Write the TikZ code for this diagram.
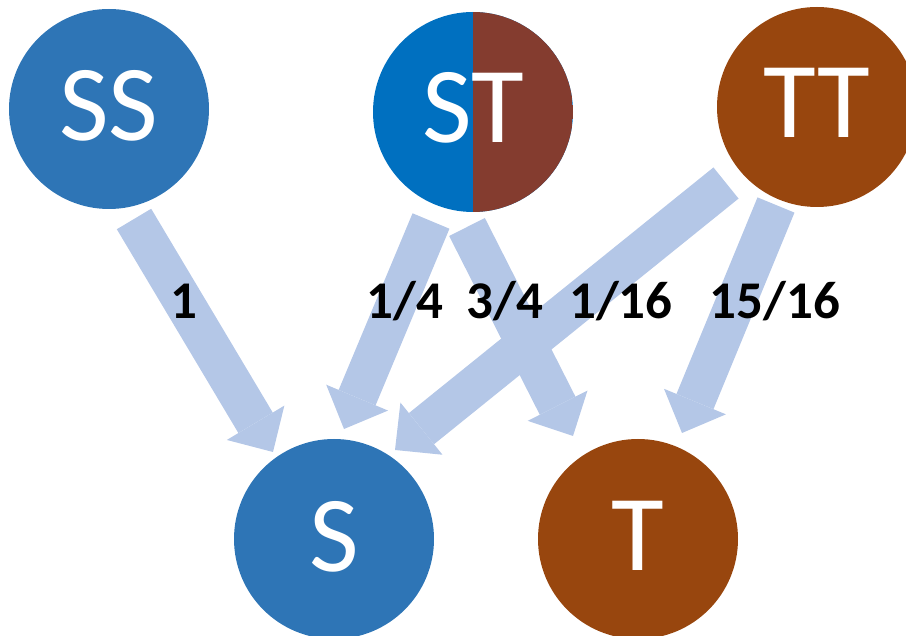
\documentclass[tikz,border=0pt]{standalone}
\usepackage{fontspec}
\setmainfont{Carlito}
\usetikzlibrary{arrows.meta,calc}
\definecolor{sblue}{HTML}{2E75B6}
\definecolor{stblue}{HTML}{0070C0}
\definecolor{stbrown}{HTML}{843C2F}
\definecolor{tbrown}{HTML}{98460E}
\definecolor{arrowblue}{HTML}{B4C7E7}
\tikzset{
  circ/.style={circle, minimum size=200pt, inner sep=0pt, draw=none},
  bigtxt/.style={anchor=base, text=white, inner sep=0pt, font=\fontsize{108}{120}\selectfont},
  lbl/.style={anchor=base, text=black, inner sep=0pt, font=\fontsize{53}{60}\selectfont\bfseries},
  fatarrow/.style={draw=arrowblue, line width=40pt, line cap=butt,
    -{Triangle[width=67pt,length=34pt,line width=0pt,fill=arrowblue]}}
}
\begin{document}
\begin{tikzpicture}[x=1pt,y=-1pt]
\useasboundingbox (0,0) rectangle (906,636);
% circles
\node[circ, fill=sblue] (SS) at (109,109) {};
\node[circ, fill=stblue, path picture={\fill[stbrown] (path picture bounding box.north) rectangle (path picture bounding box.south east);}] (ST) at (473,112) {};
\node[circ, fill=tbrown] (TT) at (817,107) {};
\node[circ, fill=sblue] (S) at (334,539) {};
\node[circ, fill=tbrown] (T) at (638,539) {};
% circle texts
\node[bigtxt] (tSS) at ([yshift=-32pt]SS.center) {SS};
\node[bigtxt] (tST) at ([yshift=-31pt]ST.center) {ST};
\node[bigtxt] (tTT) at ([yshift=-31pt]TT.center) {TT};
\node[bigtxt] (tS) at ([yshift=-32pt]S.center) {S};
\node[bigtxt] (tT) at ([yshift=-31pt]T.center) {T};
% arrow end points
\coordinate (a1s) at (134,219); \coordinate (a1e) at (273,452);
\coordinate (a2s) at (431,221); \coordinate (a2e) at (344,429);
\coordinate (a3s) at (467,227); \coordinate (a3e) at (573,436);
\coordinate (a4s) at (726,183); \coordinate (a4e) at (395,450);
\coordinate (a5s) at (776,205); \coordinate (a5e) at (682,433);
\draw[fatarrow] (a1s) -- (a1e);
\draw[fatarrow] (a2s) -- (a2e);
\draw[fatarrow] (a3s) -- (a3e);
\draw[fatarrow] (a4s) -- (a4e);
\draw[fatarrow] (a5s) -- (a5e);
% labels
\node[lbl] (l1) at (184,319) {1};
\node[lbl] (l2) at (405,319) {1/4};
\node[lbl] (l3) at (505,319) {3/4};
\node[lbl] (l4) at (621,319) {1/16};
\node[lbl] (l5) at (775,319) {15/16};
\end{tikzpicture}
\end{document}
